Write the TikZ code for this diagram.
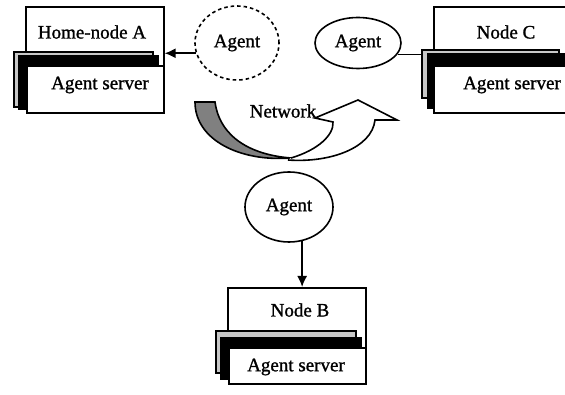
\documentclass[tikz,border=0pt]{standalone}
\usepackage{fontspec}
\setmainfont{Liberation Serif}[BoldFont=Liberation Serif, BoldFeatures={FakeBold=1.2}]
\usetikzlibrary{arrows.meta,shapes.geometric}
\begin{document}
\begin{tikzpicture}[x=1pt,y=-1pt,
  lw/.style={line width=1.6pt},
  box/.style={draw, lw, fill=white, inner sep=0pt, anchor=north west},
  graycard/.style={box, fill=black!22},
  blackcard/.style={box, fill=black},
  agent/.style={ellipse, draw, lw, fill=white, inner sep=0pt, font=\fontsize{19}{22}\selectfont\bfseries},
  lbl/.style={font=\fontsize{19}{22}\selectfont\bfseries, inner sep=0pt},
  arr/.style={lw, -{Latex[length=11pt,width=10pt]}}]
\useasboundingbox (0,0) rectangle (565,395);
\clip (0,0) rectangle (565,395);
% Node A
\node[box, minimum width=138pt, minimum height=64pt] (topA) at (25,6) {};
\node[graycard, minimum width=139pt, minimum height=55pt] (gA) at (13,51) {};
\node[blackcard, minimum width=139pt, minimum height=53pt] (bA) at (18,55) {};
\node[box, minimum width=137pt, minimum height=47pt] (fA) at (26,65) {};
\node[lbl] (tA) at (92,32) {Home-node A};
\node[lbl] (sA) at (100,85) {Agent server};
% Node C
\node[box, minimum width=150pt, minimum height=64pt] (topC) at (433,6) {};
\node[graycard, minimum width=137pt, minimum height=48pt] (gC) at (421,49) {};
\node[blackcard, minimum width=150pt, minimum height=54pt] (bC) at (427,53) {};
\node[box, minimum width=150pt, minimum height=47pt] (fC) at (433,65) {};
\node[lbl] (tC) at (506,32) {Node C};
\node[lbl] (sC) at (512,85) {Agent server};
% Node B
\node[box, minimum width=138pt, minimum height=60pt] (topB) at (227,287) {};
\node[graycard, minimum width=140pt, minimum height=42pt] (gB) at (215,330) {};
\node[blackcard, minimum width=140pt, minimum height=41pt] (bB) at (220,337) {};
\node[box, minimum width=137pt, minimum height=36pt] (fB) at (228,347) {};
\node[lbl] (tB) at (300,310) {Node B};
\node[lbl] (sB) at (296,367) {Agent server};
% Agents
\node[agent, dash pattern=on 3.5pt off 3pt, minimum width=84pt, minimum height=74pt] (agA) at (237,43) {Agent};
\node[agent, minimum width=86pt, minimum height=51pt] (agC) at (358,43) {Agent};
\node[agent, minimum width=88pt, minimum height=70pt] (agB) at (289,207) {Agent};
% connectors
\draw[arr] (agA.194) -- (agA.194 -| topA.east);
\draw[lw] (agC.-16) -- (agC.-16 -| gC.west);
\draw[arr] (agB.-69) -- (agB.-69 |- topB.north);
% Network
\path[draw, lw, fill=black!50] (195,102) -- (215,102) .. controls (220,138) and (252,155) .. (291,158) .. controls (240,162) and (195,140) .. (195,102) -- cycle;
\path[draw, lw, fill=white] (291,158) .. controls (318,150) and (334,135) .. (333,122) -- (315,118) -- (358,100) -- (397,120) -- (375,120) .. controls (372,148) and (330,163) .. (288,160);
\node[lbl] (net) at (283,111) {Network};
\end{tikzpicture}
\end{document}
